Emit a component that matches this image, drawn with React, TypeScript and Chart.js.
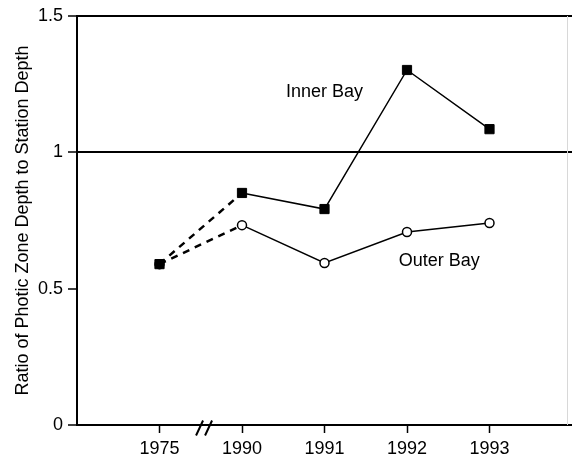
import React, { useEffect, useRef } from "react";
import { Chart, registerables } from "chart.js";

Chart.register(...registerables);

const years = ["1975", "1990", "1991", "1992", "1993"];
const innerBay = [0.59, 0.851, 0.792, 1.302, 1.085];
const outerBay = [0.59, 0.733, 0.594, 0.708, 0.741];
const yTicks = [0, 0.5, 1, 1.5];
const yTitle = "Ratio of Photic Zone Depth to Station Depth";
const refLineValues = [1, 1.5];

const FONT = "'Liberation Sans', Arial, Helvetica, sans-serif";

const annotationPlugin = {
  id: "annots",
  afterDraw(chart: any) {
    const { ctx, scales } = chart;
    const xs = scales.x;
    const ys = scales.y;
    ctx.save();
    ctx.fillStyle = "#000";
    ctx.font = `18px ${FONT}`;
    ctx.textAlign = "center";
    ctx.textBaseline = "middle";
    ctx.fillText("Inner Bay", xs.getPixelForValue(3), ys.getPixelForValue(1.22));
    ctx.fillText("Outer Bay", xs.getPixelForValue(4.39), ys.getPixelForValue(0.603));
    // axis break marks between 1975 and 1990
    const bx = xs.getPixelForValue(1.54);
    const by = ys.getPixelForValue(0) + 3;
    ctx.strokeStyle = "#000";
    ctx.lineWidth = 2;
    ctx.beginPath();
    for (const dx of [-4.5, 4.5]) {
      ctx.moveTo(bx + dx - 3.5, by + 7.5);
      ctx.lineTo(bx + dx + 3.5, by - 7.5);
    }
    ctx.stroke();
    // faint right border
    ctx.strokeStyle = "#d8d8d8";
    ctx.lineWidth = 1;
    ctx.beginPath();
    ctx.moveTo(chart.chartArea.right - 4.5, chart.chartArea.top);
    ctx.lineTo(chart.chartArea.right - 4.5, chart.chartArea.bottom);
    ctx.stroke();
    ctx.restore();
  },
};

export default function App() {
  const ref = useRef<HTMLCanvasElement>(null);
  useEffect(() => {
    const labels = ["", ...years, ""];
    const chart = new Chart(ref.current as HTMLCanvasElement, {
      type: "line",
      data: {
        labels,
        datasets: [
          {
            label: "Inner Bay",
            data: [null, ...innerBay, null],
            borderColor: "#000",
            backgroundColor: "#000",
            pointStyle: "rect",
            pointRadius: 6.5,
            pointBorderWidth: 1,
            pointBackgroundColor: "#000",
            pointBorderColor: "#000",
            borderWidth: 1.5,
            segment: {
              borderDash: (c: any) => (c.p0DataIndex === 1 ? [7, 6] : undefined),
              borderWidth: (c: any) => (c.p0DataIndex === 1 ? 2.5 : 1.5),
            },
            tension: 0,
          },
          {
            label: "Outer Bay",
            data: [null, ...outerBay, null],
            borderColor: "#000",
            backgroundColor: "#fff",
            pointStyle: "circle",
            pointRadius: 4.5,
            pointBorderWidth: 1.5,
            pointBackgroundColor: "#fff",
            pointBorderColor: "#000",
            borderWidth: 1.5,
            segment: {
              borderDash: (c: any) => (c.p0DataIndex === 1 ? [7, 6] : undefined),
              borderWidth: (c: any) => (c.p0DataIndex === 1 ? 2.5 : 1.5),
            },
            tension: 0,
          },
        ],
      },
      options: {
        responsive: false,
        animation: false,
        devicePixelRatio: 1,
        layout: { autoPadding: false, padding: { top: 16, right: 0, left: 0, bottom: 0 } },
        plugins: {
          legend: { display: false },
          tooltip: { enabled: false },
        },
        scales: {
          x: {
            type: "category",
            offset: false,
            afterBuildTicks: (s: any) => {
              s.ticks = s.ticks.filter((t: any) => labels[t.value] !== "");
            },
            afterFit: (s: any) => {
              s.height = 30;
              s.paddingLeft = 0;
              s.paddingRight = 0;
            },
            ticks: {
              color: "#000",
              font: { family: FONT, size: 18 },
              padding: 5,
              maxRotation: 0,
              autoSkip: false,
            },
            grid: {
              display: true,
              drawOnChartArea: false,
              drawTicks: true,
              tickLength: 8,
              tickColor: "#000",
              tickWidth: 1.5,
            },
            border: { display: true, color: "#000", width: 2 },
          },
          y: {
            min: 0,
            max: 1.5,
            afterBuildTicks: (s: any) => {
              s.ticks = yTicks.map((v) => ({ value: v }));
            },
            afterFit: (s: any) => {
              s.width = 77;
              s.paddingTop = 0;
              s.paddingBottom = 0;
            },
            ticks: {
              color: "#000",
              font: { family: FONT, size: 18 },
              padding: 5,
              callback: (v: any) => String(v),
            },
            grid: {
              display: true,
              drawOnChartArea: true,
              color: (c: any) =>
                c.tick && refLineValues.includes(c.tick.value) ? "#000" : "rgba(0,0,0,0)",
              lineWidth: 2,
              drawTicks: true,
              tickLength: 9,
              tickColor: "#000",
              tickWidth: 1.5,
            },
            border: { display: true, color: "#000", width: 2 },
            title: {
              display: true,
              text: yTitle,
              color: "#000",
              font: { family: FONT, size: 18, weight: "normal" },
              padding: { top: 12, bottom: 0 },
            },
          },
        },
      },
      plugins: [annotationPlugin],
    } as any);
    return () => chart.destroy();
  }, []);
  return (
    <div style={{ position: "absolute", left: 0, top: 0, width: 572, height: 455, background: "#fff" }}>
      <canvas ref={ref} width={572} height={455} style={{ width: 572, height: 455, display: "block" }} />
    </div>
  );
}
